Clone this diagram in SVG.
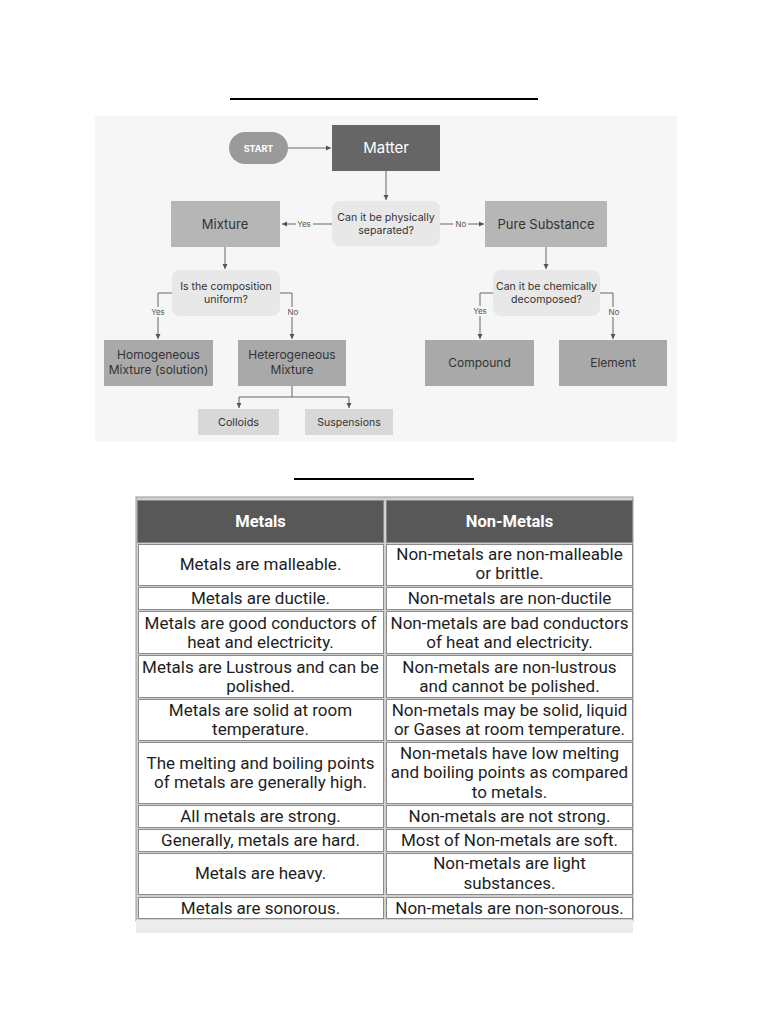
<svg xmlns="http://www.w3.org/2000/svg" width="768" height="1024" viewBox="0 0 768 1024">
<defs>
<marker id="ah" markerWidth="6" markerHeight="6" refX="5" refY="3" orient="auto" markerUnits="userSpaceOnUse">
<path d="M0,0.5 L5,3 L0,5.5 Z" fill="#555"/>
</marker>
<style>
.fc{font-family:Inter,"Noto Sans",sans-serif;text-anchor:middle;fill:#333}
.lbl{font-family:Inter,"Noto Sans",sans-serif;font-size:8px;fill:#555;text-anchor:middle}
.edge{fill:none;stroke:#666;stroke-width:1;marker-end:url(#ah)}
.seg{fill:none;stroke:#666;stroke-width:1}
.box{fill:#b6b6b6}
.leaf{fill:#a9a9a9}
.dec{fill:#e8e8e8}
.sub{fill:#d8d8d8}
.cell{fill:#fff;stroke:#8a8a8a;stroke-width:1}
.hd{fill:#585858;stroke:#8a8a8a;stroke-width:1}
.t{font-family:Roboto,"Liberation Sans",sans-serif;font-size:17px;fill:#1e1e1e;text-anchor:middle}
.th{font-family:Roboto,"Liberation Sans",sans-serif;font-size:16.5px;font-weight:bold;fill:#fff;text-anchor:middle}
</style>
</defs>
<rect width="768" height="1024" fill="#fff"/>
<line x1="230" y1="99" x2="538" y2="99" stroke="#000" stroke-width="2"/>
<rect x="95" y="116" width="582" height="326" fill="#f6f6f6"/>

<g id="connectors">
<line class="edge" x1="288" y1="148" x2="331" y2="148"/>
<line class="edge" x1="386" y1="171" x2="386" y2="200"/>
<line class="edge" x1="332" y1="224" x2="282" y2="224"/>
<line class="edge" x1="440" y1="224" x2="484" y2="224"/>
<line class="edge" x1="225" y1="247" x2="225" y2="269"/>
<line class="edge" x1="546" y1="247" x2="546" y2="269"/>
<polyline class="edge" points="172,293 158,293 158,339"/>
<polyline class="edge" points="280,293 292,293 292,339"/>
<polyline class="edge" points="493,293 480,293 480,339"/>
<polyline class="edge" points="600,293 613,293 613,339"/>
<polyline class="seg" points="292,386 292,397"/>
<polyline class="edge" points="239,397 239,408"/>
<polyline class="edge" points="349,397 349,408"/>
<line class="seg" x1="239" y1="397" x2="349" y2="397"/>
<rect x="296" y="219" width="17" height="10" fill="#f6f6f6"/>
<text class="lbl" x="304" y="227">Yes</text>
<rect x="453" y="219" width="15" height="10" fill="#f6f6f6"/>
<text class="lbl" x="461" y="227">No</text>
<rect x="150" y="307" width="17" height="10" fill="#f6f6f6"/>
<text class="lbl" x="158" y="315">Yes</text>
<rect x="285" y="307" width="15" height="10" fill="#f6f6f6"/>
<text class="lbl" x="293" y="315">No</text>
<rect x="472" y="306" width="17" height="10" fill="#f6f6f6"/>
<text class="lbl" x="480" y="314">Yes</text>
<rect x="606" y="307" width="15" height="10" fill="#f6f6f6"/>
<text class="lbl" x="614" y="315">No</text>
</g>

<g id="start">
<rect x="229" y="132" width="59" height="32" rx="16" fill="#9a9a9a"/>
<text class="fc" x="258.5" y="151.5" font-size="9" font-weight="bold" style="fill:#fff">START</text>
</g>
<g id="matter">
<rect x="332" y="125" width="108" height="46" fill="#666"/>
<text class="fc" x="386" y="153" font-size="15" style="fill:#fff">Matter</text>
</g>
<g id="q-physical">
<rect class="dec" x="332" y="201" width="108" height="45" rx="8"/>
<text class="fc" x="386" y="221" font-size="10.6">Can it be physically</text>
<text class="fc" x="386" y="234" font-size="10.6">separated?</text>
</g>
<g id="mixture">
<rect class="box" x="171" y="201" width="109" height="46"/>
<text class="fc" x="225" y="228.5" font-size="13">Mixture</text>
</g>
<g id="pure-substance">
<rect class="box" x="485" y="201" width="122" height="46"/>
<text class="fc" x="546" y="228.5" font-size="13">Pure Substance</text>
</g>
<g id="q-uniform">
<rect class="dec" x="172" y="270" width="108" height="46" rx="8"/>
<text class="fc" x="226" y="290" font-size="10.6">Is the composition</text>
<text class="fc" x="226" y="303" font-size="10.6">uniform?</text>
</g>
<g id="q-chemical">
<rect class="dec" x="493" y="270" width="107" height="46" rx="8"/>
<text class="fc" x="546.5" y="290" font-size="10.6">Can it be chemically</text>
<text class="fc" x="546.5" y="303" font-size="10.6">decomposed?</text>
</g>
<g id="homogeneous">
<rect class="leaf" x="104" y="340" width="109" height="46"/>
<text class="fc" x="158.5" y="359" font-size="12">Homogeneous</text>
<text class="fc" x="158.5" y="374" font-size="12">Mixture (solution)</text>
</g>
<g id="heterogeneous">
<rect class="leaf" x="238" y="340" width="108" height="46"/>
<text class="fc" x="292" y="359" font-size="12">Heterogeneous</text>
<text class="fc" x="292" y="374" font-size="12">Mixture</text>
</g>
<g id="compound">
<rect class="leaf" x="425" y="340" width="109" height="46"/>
<text class="fc" x="479.5" y="367" font-size="12">Compound</text>
</g>
<g id="element">
<rect class="leaf" x="559" y="340" width="108" height="46"/>
<text class="fc" x="613" y="367" font-size="12">Element</text>
</g>
<g id="colloids">
<rect class="sub" x="198" y="409" width="81" height="26"/>
<text class="fc" x="238.5" y="426" font-size="10.8">Colloids</text>
</g>
<g id="suspensions">
<rect class="sub" x="305" y="409" width="88" height="26"/>
<text class="fc" x="349" y="426" font-size="10.5">Suspensions</text>
</g>

<line x1="294" y1="479" x2="474" y2="479" stroke="#000" stroke-width="2"/>

<g id="table">
<rect x="136" y="497" width="497" height="424" fill="#d0d0d0" stroke="#999" stroke-width="1"/>
<rect x="136" y="920" width="497" height="13" fill="#ececec"/>
<rect class="hd" x="137.5" y="500.5" width="246" height="42"/>
<rect class="hd" x="386.5" y="500.5" width="246" height="42"/>
<text class="th" x="260.5" y="527">Metals</text>
<text class="th" x="509.5" y="527">Non-Metals</text>

<rect class="cell" x="138.5" y="544.5" width="245" height="41"/>
<rect class="cell" x="386.5" y="544.5" width="246" height="41"/>
<text class="t" x="260.5" y="570">Metals are malleable.</text>
<text class="t" x="509.5" y="560">Non-metals are non-malleable</text>
<text class="t" x="509.5" y="579">or brittle.</text>

<rect class="cell" x="138.5" y="587.5" width="245" height="22"/>
<rect class="cell" x="386.5" y="587.5" width="246" height="22"/>
<text class="t" x="260.5" y="604">Metals are ductile.</text>
<text class="t" x="509.5" y="604">Non-metals are non-ductile</text>

<rect class="cell" x="138.5" y="611.5" width="245" height="42"/>
<rect class="cell" x="386.5" y="611.5" width="246" height="42"/>
<text class="t" x="260.5" y="629">Metals are good conductors of</text>
<text class="t" x="260.5" y="648">heat and electricity.</text>
<text class="t" x="509.5" y="629">Non-metals are bad conductors</text>
<text class="t" x="509.5" y="648">of heat and electricity.</text>

<rect class="cell" x="138.5" y="655.5" width="245" height="42"/>
<rect class="cell" x="386.5" y="655.5" width="246" height="42"/>
<text class="t" x="260.5" y="673">Metals are Lustrous and can be</text>
<text class="t" x="260.5" y="692">polished.</text>
<text class="t" x="509.5" y="673">Non-metals are non-lustrous</text>
<text class="t" x="509.5" y="692">and cannot be polished.</text>

<rect class="cell" x="138.5" y="699.5" width="245" height="41"/>
<rect class="cell" x="386.5" y="699.5" width="246" height="41"/>
<text class="t" x="260.5" y="716">Metals are solid at room</text>
<text class="t" x="260.5" y="735">temperature.</text>
<text class="t" x="509.5" y="716">Non-metals may be solid, liquid</text>
<text class="t" x="509.5" y="735">or Gases at room temperature.</text>

<rect class="cell" x="138.5" y="742.5" width="245" height="61"/>
<rect class="cell" x="386.5" y="742.5" width="246" height="61"/>
<text class="t" x="260.5" y="769">The melting and boiling points</text>
<text class="t" x="260.5" y="788">of metals are generally high.</text>
<text class="t" x="509.5" y="759">Non-metals have low melting</text>
<text class="t" x="509.5" y="778">and boiling points as compared</text>
<text class="t" x="509.5" y="798">to metals.</text>

<rect class="cell" x="138.5" y="805.5" width="245" height="22"/>
<rect class="cell" x="386.5" y="805.5" width="246" height="22"/>
<text class="t" x="260.5" y="822">All metals are strong.</text>
<text class="t" x="509.5" y="822">Non-metals are not strong.</text>

<rect class="cell" x="138.5" y="829.5" width="245" height="22"/>
<rect class="cell" x="386.5" y="829.5" width="246" height="22"/>
<text class="t" x="260.5" y="846">Generally, metals are hard.</text>
<text class="t" x="509.5" y="846">Most of Non-metals are soft.</text>

<rect class="cell" x="138.5" y="853.5" width="245" height="41"/>
<rect class="cell" x="386.5" y="853.5" width="246" height="41"/>
<text class="t" x="260.5" y="879">Metals are heavy.</text>
<text class="t" x="509.5" y="869">Non-metals are light</text>
<text class="t" x="509.5" y="889">substances.</text>

<rect class="cell" x="138.5" y="897.5" width="245" height="21"/>
<rect class="cell" x="386.5" y="897.5" width="246" height="21"/>
<text class="t" x="260.5" y="914">Metals are sonorous.</text>
<text class="t" x="509.5" y="914">Non-metals are non-sonorous.</text>
</g>
</svg>
